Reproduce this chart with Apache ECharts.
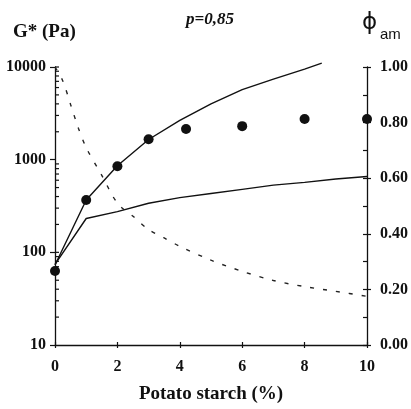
<!DOCTYPE html>
<html>
<head>
<meta charset="utf-8">
<script src="https://cdn.jsdelivr.net/npm/echarts@6/dist/echarts.min.js"></script>
<style>
html,body{margin:0;padding:0;background:#fff;}
#c{width:411px;height:409px;}
</style>
</head>
<body>
<div id="c"></div>
<script>
// Measured points G* (Pa), left log axis
const dotX = [0, 1, 2, 3, 4.2, 6, 8, 10];
const dotG = [63, 367, 850, 1660, 2140, 2300, 2750, 2750];
// Upper solid curve (G*, left axis)
const fitX = [0, 1, 2, 3, 4, 5, 6, 7, 8, 8.55];
const fitG = [73, 367, 860, 1650, 2650, 4000, 5700, 7400, 9500, 11000];
// Lower solid curve (phi_am, right axis)
const solidPhiX = [0, 1, 2, 3, 4, 5, 6, 7, 8, 9, 10];
const solidPhi = [0.29, 0.455, 0.48, 0.51, 0.53, 0.545, 0.56, 0.575, 0.585, 0.597, 0.606];
// Dashed curve (right axis)
const dashX = [0, 0.25, 0.5, 0.75, 1, 1.5, 2, 2.5, 3, 3.5, 4, 5, 6, 7, 8, 9, 10];
const dashPhi = [1.00, 0.95, 0.865, 0.78, 0.71, 0.61, 0.51, 0.463, 0.415, 0.385, 0.355, 0.305, 0.265, 0.232, 0.21, 0.193, 0.175];
// Axis ticks
const xTicks = [0, 2, 4, 6, 8, 10];
const gTicks = [10, 100, 1000, 10000];
const gMinorTicks = [20,30,40,50,60,70,80,90,100,200,300,400,500,600,700,800,900,2000,3000,4000,5000,6000,7000,8000,9000,10000];
const phiTicks = [0.00, 0.20, 0.40, 0.60, 0.80, 1.00];

const serif = '"Liberation Serif", "Times New Roman", serif';
const lbl = {fontFamily: serif, fontWeight: 'bold', fontSize: 16, color: '#111'};
const axLine = {show: true, onZero: false, lineStyle: {color: '#111', width: 1.3}};
const tickStyle = {color: '#111', width: 1.2};

const chart = echarts.init(document.getElementById('c'), null, {renderer: 'canvas'});
chart.setOption({
  animation: false,
  backgroundColor: '#fff',
  grid: {left: 55, right: 44, top: 67, bottom: 64},
  xAxis: [{
    type: 'value', min: xTicks[0], max: xTicks[xTicks.length-1], interval: 2,
    axisLine: axLine, splitLine: {show: false},
    axisTick: {show: true, length: 3, lineStyle: tickStyle},
    axisLabel: Object.assign({margin: 14, formatter: v => String(v)}, lbl),
    name: 'Potato starch (%)', nameLocation: 'middle', nameGap: 40,
    nameTextStyle: {fontFamily: serif, fontWeight: 'bold', fontSize: 19, color: '#111'}
  }, {
    type: 'value', min: xTicks[0], max: xTicks[xTicks.length-1], interval: 2, position: 'bottom',
    axisLine: {show: false, onZero: false}, splitLine: {show: false},
    axisTick: {show: true, inside: true, length: 3, lineStyle: tickStyle},
    axisLabel: {show: false}
  }],
  yAxis: [{
    type: 'log', logBase: 10, min: gTicks[0], max: gTicks[gTicks.length-1], position: 'left',
    axisLine: axLine, splitLine: {show: false},
    axisTick: {show: true, length: 5, lineStyle: tickStyle},
    axisLabel: Object.assign({margin: 9, formatter: v => String(Math.round(v))}, lbl)
  }, {
    type: 'value', min: phiTicks[0], max: phiTicks[phiTicks.length-1], interval: 0.2, position: 'right',
    axisLine: axLine, splitLine: {show: false},
    axisTick: {show: true, inside: true, length: 4, lineStyle: tickStyle},
    minorTick: {show: true, splitNumber: 2, length: 4, lineStyle: tickStyle},
    axisLabel: Object.assign({margin: 13, formatter: v => v.toFixed(2)}, lbl)
  }, {
    type: 'value', min: phiTicks[0], max: phiTicks[phiTicks.length-1], interval: 0.2, position: 'right',
    axisLine: {show: false, onZero: false}, splitLine: {show: false},
    axisTick: {show: true, inside: false, length: 4, lineStyle: tickStyle},
    axisLabel: {show: false}
  }],
  graphic: [
    {type: 'text', left: 13, top: 23, style: {text: 'G* (Pa)', font: 'bold 19px ' + serif, fill: '#111'}},
    {type: 'text', left: 186, top: 11, style: {text: 'p=0,85', font: 'italic bold 17px ' + serif, fill: '#111'}},
    {type: 'text', left: 362, top: 12, style: {text: 'ϕ', font: '23px "DejaVu Sans", sans-serif', fill: '#111'}},
    {type: 'text', left: 380, top: 27, style: {text: 'am', font: '15px "Liberation Sans", Arial, sans-serif', fill: '#111'}}
  ],
  series: [
    {
      type: 'line', xAxisIndex: 0, yAxisIndex: 0, clip: false, silent: true,
      data: fitX.map((x, i) => [x, fitG[i]]),
      showSymbol: false, lineStyle: {color: '#111', width: 1.4}
    },
    {
      type: 'line', xAxisIndex: 0, yAxisIndex: 1, silent: true,
      data: solidPhiX.map((x, i) => [x, solidPhi[i]]),
      showSymbol: false, lineStyle: {color: '#111', width: 1.4}
    },
    {
      type: 'line', xAxisIndex: 0, yAxisIndex: 1, silent: true, smooth: 0.3,
      data: dashX.map((x, i) => [x, dashPhi[i]]),
      showSymbol: false, lineStyle: {color: '#222', width: 1.4, type: [4, 9]}
    },
    {
      type: 'scatter', xAxisIndex: 0, yAxisIndex: 0, clip: false, silent: true,
      data: dotX.map((x, i) => [x, dotG[i]]),
      symbol: 'circle', symbolSize: 10, itemStyle: {color: '#111', opacity: 1}
    },
    {
      type: 'scatter', xAxisIndex: 0, yAxisIndex: 0, clip: false, silent: true,
      data: gMinorTicks.map(v => [0, v]),
      symbol: 'rect', symbolSize: [4, 1.2], symbolOffset: [2, 0], itemStyle: {color: '#111', opacity: 1}
    }
  ]
});
</script>
</body>
</html>
